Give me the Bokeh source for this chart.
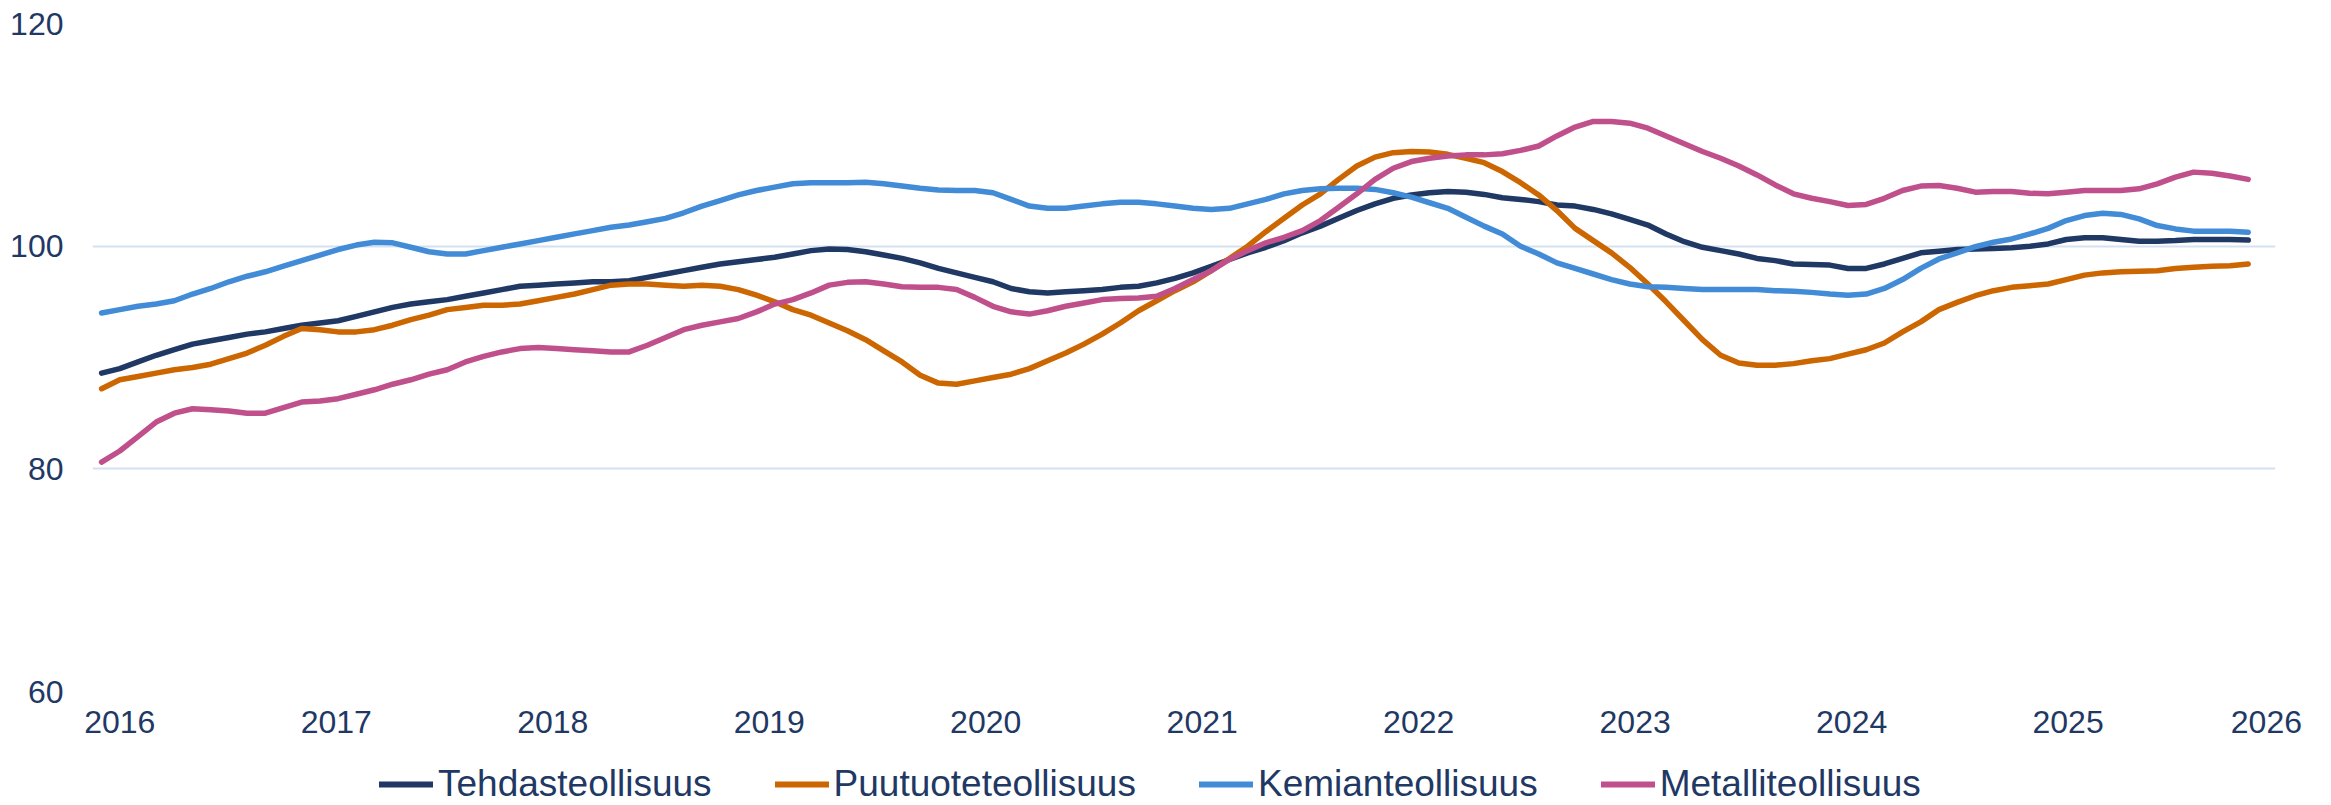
from bokeh.plotting import figure
from bokeh.layouts import column
from bokeh.models import Range1d, FixedTicker, Legend, LegendItem
from bokeh.embed import file_html
from bokeh.resources import INLINE

years = [2016, 2017, 2018, 2019, 2020, 2021, 2022, 2023, 2024, 2025, 2026]
y_ticks = [60, 80, 100, 120]
series_names = ["Tehdasteollisuus", "Puutuoteteollisuus", "Kemianteollisuus", "Metalliteollisuus"]
colors = ["#1F3864", "#CC6600", "#428BD7", "#C0508C"]

tehdas = [88.6, 89.0, 89.6, 90.2, 90.7, 91.2, 91.5, 91.8, 92.1, 92.3,
          92.6, 92.9, 93.1, 93.3, 93.7, 94.1, 94.5, 94.8, 95.0, 95.2,
          95.5, 95.8, 96.1, 96.4, 96.5, 96.6, 96.7, 96.8, 96.8, 96.9,
          97.2, 97.5, 97.8, 98.1, 98.4, 98.6, 98.8, 99.0, 99.3, 99.6,
          99.75, 99.7, 99.5, 99.2, 98.9, 98.5, 98.0, 97.6, 97.2, 96.8,
          96.2, 95.9, 95.8, 95.9, 96.0, 96.1, 96.3, 96.4, 96.7, 97.1,
          97.6, 98.2, 98.8, 99.4, 99.9, 100.5, 101.2, 101.8, 102.5, 103.2,
          103.8, 104.3, 104.6, 104.8, 104.9, 104.85, 104.65, 104.35, 104.2, 104.0,
          103.7, 103.6, 103.3, 102.9, 102.4, 101.9, 101.1, 100.4, 99.9, 99.6,
          99.3, 98.9, 98.7, 98.4, 98.35, 98.3, 98.0, 98.0, 98.4, 98.9,
          99.4, 99.55, 99.7, 99.75, 99.8, 99.85, 100.0, 100.2, 100.6, 100.75,
          100.75, 100.6, 100.45, 100.45, 100.5, 100.6, 100.6, 100.6, 100.55]

puutuote = [87.2, 88.0, 88.3, 88.6, 88.9, 89.1, 89.4, 89.9, 90.4, 91.1,
            91.9, 92.6, 92.5, 92.3, 92.3, 92.5, 92.9, 93.4, 93.8, 94.3,
            94.5, 94.7, 94.7, 94.8, 95.1, 95.4, 95.7, 96.1, 96.5, 96.6,
            96.6, 96.5, 96.4, 96.5, 96.4, 96.1, 95.6, 95.0, 94.3, 93.8,
            93.1, 92.4, 91.6, 90.6, 89.6, 88.4, 87.7, 87.6, 87.9, 88.2,
            88.5, 89.0, 89.7, 90.4, 91.2, 92.1, 93.1, 94.2, 95.1, 96.0,
            96.8, 97.8, 98.9, 100.0, 101.3, 102.5, 103.7, 104.7, 106.0, 107.2,
            108.0, 108.4, 108.5, 108.45, 108.25, 107.9, 107.5, 106.7, 105.7, 104.6,
            103.2, 101.6, 100.5, 99.4, 98.1, 96.6, 95.0, 93.3, 91.6, 90.2,
            89.5, 89.3, 89.3, 89.45, 89.7, 89.9, 90.3, 90.7, 91.3, 92.3,
            93.2, 94.3, 94.95, 95.55, 96.0, 96.3, 96.45, 96.6, 97.0, 97.4,
            97.6, 97.7, 97.75, 97.8, 98.0, 98.1, 98.2, 98.25, 98.4]

kemian = [94.0, 94.3, 94.6, 94.8, 95.1, 95.7, 96.2, 96.8, 97.3, 97.7,
          98.2, 98.7, 99.2, 99.7, 100.1, 100.35, 100.3, 99.9, 99.5, 99.3,
          99.3, 99.6, 99.9, 100.2, 100.5, 100.8, 101.1, 101.4, 101.7, 101.9,
          102.2, 102.5, 103.0, 103.6, 104.1, 104.6, 105.0, 105.3, 105.6, 105.7,
          105.7, 105.7, 105.75, 105.6, 105.4, 105.2, 105.05, 105.0, 105.0, 104.8,
          104.2, 103.6, 103.4, 103.4, 103.6, 103.8, 103.95, 103.95, 103.8, 103.6,
          103.4, 103.3, 103.4, 103.8, 104.2, 104.7, 105.0, 105.15, 105.2, 105.2,
          105.1, 104.8, 104.4, 103.9, 103.4, 102.6, 101.8, 101.1, 100.0, 99.3,
          98.5, 98.0, 97.5, 97.0, 96.6, 96.35, 96.3, 96.2, 96.1, 96.1,
          96.1, 96.1, 96.0, 95.95, 95.85, 95.7, 95.6, 95.7, 96.2, 97.0,
          98.0, 98.85, 99.4, 99.95, 100.35, 100.65, 101.1, 101.6, 102.3, 102.75,
          102.95, 102.85, 102.45, 101.85, 101.55, 101.35, 101.35, 101.35, 101.25]

metalli = [80.6, 81.6, 82.9, 84.2, 85.0, 85.4, 85.3, 85.2, 85.0, 85.0,
           85.5, 86.0, 86.1, 86.3, 86.7, 87.1, 87.6, 88.0, 88.5, 88.9,
           89.6, 90.1, 90.5, 90.8, 90.9, 90.8, 90.7, 90.6, 90.5, 90.5,
           91.1, 91.8, 92.5, 92.9, 93.2, 93.5, 94.1, 94.8, 95.2, 95.8,
           96.5, 96.75, 96.8, 96.6, 96.35, 96.3, 96.3, 96.1, 95.4, 94.6,
           94.1, 93.9, 94.2, 94.6, 94.9, 95.2, 95.3, 95.35, 95.5, 96.2,
           97.0, 97.8, 98.8, 99.6, 100.3, 100.8, 101.4, 102.3, 103.5, 104.7,
           106.0, 107.0, 107.6, 107.9, 108.1, 108.2, 108.2, 108.3, 108.6, 109.0,
           109.9, 110.7, 111.2, 111.2, 111.05, 110.6, 109.9, 109.2, 108.5, 107.9,
           107.2, 106.4, 105.5, 104.7, 104.3, 104.0, 103.65, 103.75, 104.3, 105.0,
           105.4, 105.45, 105.2, 104.85, 104.9, 104.9, 104.75, 104.7, 104.85, 105.0,
           105.0, 105.0, 105.15, 105.6, 106.2, 106.65, 106.55, 106.3, 106.0]

TEXT = "#1F3864"
FONT = "Liberation Sans"
n_slots = 120
x = list(range(len(tehdas)))
series = [tehdas, puutuote, kemian, metalli]

# ---- main chart ----
p = figure(width=2331, height=760, output_backend="svg", toolbar_location=None,
           x_range=Range1d(-0.5, n_slots - 0.5), y_range=Range1d(60, 120),
           min_border_left=92, min_border_right=56, min_border_top=23, min_border_bottom=69)
p.outline_line_color = None
p.background_fill_color = "white"
p.border_fill_color = "white"

tick_pos = [round(1.0 + 11.9 * k, 2) for k in range(len(years) - 1)] + [119.0]
p.xaxis.ticker = FixedTicker(ticks=tick_pos)
p.xaxis.major_label_overrides = {t: str(yv) for t, yv in zip(tick_pos, years)}
p.yaxis.ticker = FixedTicker(ticks=y_ticks)
for ax in (p.xaxis[0], p.yaxis[0]):
    ax.axis_line_color = None
    ax.major_tick_line_color = None
    ax.minor_tick_line_color = None
    ax.major_tick_out = 0
    ax.major_tick_in = 0
    ax.minor_tick_out = 0
    ax.major_label_text_font = FONT
    ax.major_label_text_font_size = "32px"
    ax.major_label_text_color = TEXT
p.xaxis.major_label_standoff = 19
p.yaxis.major_label_standoff = 29

p.xgrid.grid_line_color = None
p.ygrid.ticker = FixedTicker(ticks=y_ticks)
p.ygrid.grid_line_color = "#D6E1F0"
p.ygrid.grid_line_width = 2

for vals, col in zip(series, colors):
    p.line(x, vals, line_color=col, line_width=5.5, line_join="round", line_cap="round")

# ---- legend strip (its own small figure, data kept outside its view) ----
lg = figure(width=2331, height=45, output_backend="svg", toolbar_location=None,
            x_axis_type=None, y_axis_type=None,
            x_range=Range1d(-1000, -999), y_range=Range1d(0, 1),
            min_border_left=0, min_border_right=0, min_border_top=0, min_border_bottom=0)
lg.grid.visible = False
lg.outline_line_color = None
lg.background_fill_color = "white"
lg.border_fill_color = "white"

items = []
for name, vals, col in zip(series_names, series, colors):
    r = lg.line(x, vals, line_color=col, line_width=6, line_cap="round")
    items.append(LegendItem(label=name, renderers=[r]))

legend = Legend(items=items, orientation="horizontal", location=(287, 0))
legend.label_text_font = FONT
legend.label_text_font_size = "37px"
legend.label_text_color = TEXT
legend.glyph_width = 54
legend.glyph_height = 30
legend.label_standoff = 5
legend.spacing = 63
legend.padding = 0
legend.margin = 0
legend.border_line_color = None
legend.background_fill_alpha = 0
lg.add_layout(legend, "center")

layout = column(p, lg, spacing=0)
open("out.html", "w").write(file_html(layout, INLINE))
